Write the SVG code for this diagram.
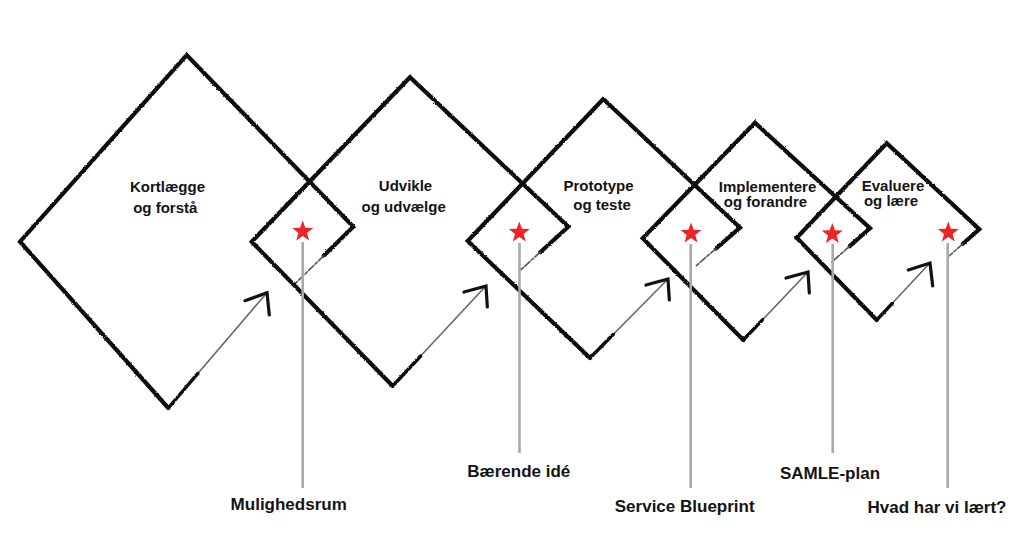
<svg xmlns="http://www.w3.org/2000/svg" width="1024" height="536" viewBox="0 0 1024 536">
<defs>
<style>
.frame{fill:none;stroke:#111;stroke-width:4.2;stroke-linejoin:miter;stroke-linecap:round}
.fade{fill:none;stroke:#555;stroke-width:1.6;stroke-linecap:round;stroke-dasharray:7 2 3 2}
.shaft{fill:none;stroke:#111;stroke-width:3.4;stroke-linecap:round}
.shaft-thin{fill:none;stroke:#666;stroke-width:1.6;stroke-linecap:round}
.head{fill:none;stroke:#111;stroke-width:3.2;stroke-linecap:round;stroke-linejoin:miter}
.pole{fill:none;stroke:#a9a9a9;stroke-width:2.6;stroke-linecap:butt}
.star{fill:#ec2327}
.lbl{font-family:"Liberation Sans",Arial,sans-serif;font-weight:bold;font-size:15px;fill:#141414;text-anchor:middle}
.out{font-family:"Liberation Sans",Arial,sans-serif;font-weight:bold;font-size:17px;fill:#141414;text-anchor:middle}
</style>
<filter id="rough" x="-5%" y="-5%" width="110%" height="110%">
<feTurbulence type="fractalNoise" baseFrequency="0.9" numOctaves="2" seed="4"/>
<feDisplacementMap in="SourceGraphic" scale="2.2" xChannelSelector="R" yChannelSelector="G"/>
</filter>
<path id="starShape" d="M0,-11 L2.65,-3.64 L10.46,-3.4 L4.28,1.39 L6.47,8.9 L0,4.5 L-6.47,8.9 L-4.28,1.39 L-10.46,-3.4 L-2.65,-3.64 Z"/>
</defs>
<rect width="1024" height="536" fill="#fff"/>

<g id="node-1">
<path class="frame" filter="url(#rough)" d="M168.3,408 L20,241.7 L186.7,55 L353.3,226.7 L323.7,255.7"/>
<path class="fade" d="M323.7,255.7 L294.1,284.7"/>
<text class="lbl" x="167.5" y="191.7">Kortlægge</text>
<text class="lbl" x="165.3" y="213.3">og forstå</text>
</g>
<g id="node-2">
<path class="frame" filter="url(#rough)" d="M392.7,386 L251.7,241.7 L410,77.3 L568.3,226.7 L540.2,252.2"/>
<path class="fade" d="M540.2,252.2 L519.1,271.3"/>
<text class="lbl" x="405.5" y="191">Udvikle</text>
<text class="lbl" x="403.7" y="211.7">og udvælge</text>
</g>
<g id="node-3">
<path class="frame" filter="url(#rough)" d="M590,358 L467.7,241 L603.3,99 L740,227.7 L716,248.5"/>
<path class="fade" d="M716,248.5 L695,266.8"/>
<text class="lbl" x="598.5" y="191">Prototype</text>
<text class="lbl" x="602" y="210">og teste</text>
</g>
<g id="node-4">
<path class="frame" filter="url(#rough)" d="M743.3,340 L642.7,238.3 L755,122.7 L870,228.3 L849.7,246.2"/>
<path class="fade" d="M849.7,246.2 L832,261.8"/>
<text class="lbl" x="767.5" y="191.7">Implementere</text>
<text class="lbl" x="765.5" y="206.7">og forandre</text>
</g>
<g id="node-5">
<path class="frame" filter="url(#rough)" d="M876.7,320 L796.7,237.7 L886.7,143.3 L979.3,229.3 L962.9,243.8"/>
<path class="fade" d="M962.9,243.8 L948.5,256.5"/>
<text class="lbl" x="893" y="191">Evaluere</text>
<text class="lbl" x="891" y="206">og lære</text>
</g>

<g id="connectors">
<g id="poles">
<line class="pole" x1="302.7" y1="242" x2="302.7" y2="488"/>
<line class="pole" x1="519.5" y1="243" x2="519.5" y2="453"/>
<line class="pole" x1="690.7" y1="244" x2="690.7" y2="488"/>
<line class="pole" x1="832.7" y1="244" x2="832.7" y2="453"/>
<line class="pole" x1="947.7" y1="243" x2="947.7" y2="488"/>
</g>
<g id="arrows">
<path class="shaft-thin" d="M168.3,408 L265,295"/>
<path class="shaft" filter="url(#rough)" d="M168.3,408 L197.9,373.4"/>
<path class="head" d="M245,300.7 L267,292.7 L269.3,315"/>
<path class="shaft-thin" d="M392.7,386 L484,288"/>
<path class="shaft" filter="url(#rough)" d="M392.7,386 L420.7,356"/>
<path class="head" d="M464,292 L486,286 L487.3,307"/>
<path class="shaft-thin" d="M590,358 L666,281"/>
<path class="shaft" filter="url(#rough)" d="M590,358 L613.4,334.3"/>
<path class="head" d="M646,285 L668,279 L669.3,300"/>
<path class="shaft-thin" d="M743.3,340 L806,274"/>
<path class="shaft" filter="url(#rough)" d="M743.3,340 L762.7,319.6"/>
<path class="head" d="M786,278 L808,272 L809.3,293"/>
<path class="shaft-thin" d="M876.7,320 L928,265"/>
<path class="shaft" filter="url(#rough)" d="M876.7,320 L892.7,302.9"/>
<path class="head" d="M908.3,270 L930,263 L932.7,286"/>
</g>
</g>

<g id="milestone-1">
<use href="#starShape" class="star" transform="translate(302.7,231.5)"/>
<text class="out" x="288.7" y="510">Mulighedsrum</text>
</g>
<g id="milestone-2">
<use href="#starShape" class="star" transform="translate(519.3,232.5)"/>
<text class="out" x="518.8" y="477">Bærende idé</text>
</g>
<g id="milestone-3">
<use href="#starShape" class="star" transform="translate(691,233.5)"/>
<text class="out" x="684.7" y="511.7">Service Blueprint</text>
</g>
<g id="milestone-4">
<use href="#starShape" class="star" transform="translate(832.3,234)"/>
<text class="out" x="830" y="479">SAMLE-plan</text>
</g>
<g id="milestone-5">
<use href="#starShape" class="star" transform="translate(948.3,232.5)"/>
<text class="out" x="937" y="513">Hvad har vi lært?</text>
</g>
</svg>
